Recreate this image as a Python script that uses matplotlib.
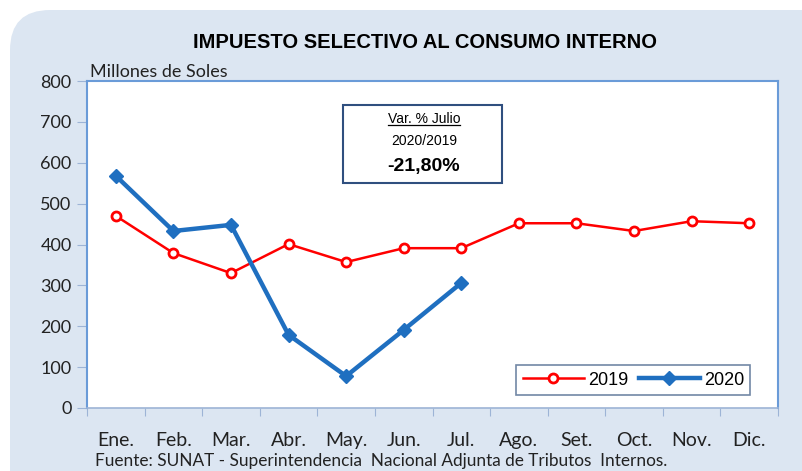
import matplotlib
matplotlib.use("Agg")
import matplotlib.pyplot as plt
from matplotlib.patches import FancyBboxPatch, Rectangle
from matplotlib.lines import Line2D
import numpy as np

# data
meses = ["Ene.", "Feb.", "Mar.", "Abr.", "May.", "Jun.", "Jul.",
         "Ago.", "Set.", "Oct.", "Nov.", "Dic."]
serie_2019 = [470, 379, 330, 401, 357, 391, 391, 452, 452, 433, 457, 452]
serie_2020 = [568, 433, 448, 179, 78, 191, 306]

titulo = "IMPUESTO SELECTIVO AL CONSUMO INTERNO"
fuente = "Fuente: SUNAT - Superintendencia  Nacional Adjunta de Tributos  Internos."

W, H = 802, 471
fig = plt.figure(figsize=(W / 100, H / 100), dpi=100)
fig.patch.set_facecolor("white")

# rounded light-blue background panel
bg = FancyBboxPatch((10 / W, -0.2), 1.2, 1.2 - 10 / H,
                    boxstyle="round,pad=0,rounding_size=0.05",
                    transform=fig.transFigure, facecolor="#dce6f2",
                    edgecolor="none", zorder=-5, mutation_aspect=W / H)
fig.patches.append(bg)

ax = fig.add_axes([87 / W, (H - 408) / H, (778 - 87) / W, (408 - 81) / H])
ax.set_facecolor("white")

x = np.arange(len(meses))
ax.plot(x, serie_2019, color="#ff0000", lw=1.8, marker="o", ms=6.5,
        mfc="white", mec="#ff0000", mew=2, label="2019", zorder=3)
ax.plot(np.arange(len(serie_2020)), serie_2020, color="#1f6fc0", lw=3.2,
        marker="D", ms=7, mfc="#1f6fc0", mec="#1f6fc0", label="2020", zorder=4)

ax.set_xlim(-0.5, len(meses) - 0.5)
ax.set_ylim(0, 800)
ax.set_yticks(range(0, 801, 100))
ax.set_xticks(np.arange(-0.5, len(meses), 1), minor=False)
ax.set_xticklabels([])
ax.set_xticks(x, minor=True)
ax.set_xticklabels(meses, minor=True)

axis_col = "#6a9bd8"
for s in ax.spines.values():
    s.set_color(axis_col)
    s.set_linewidth(1.5)
ax.spines["bottom"].set_color("#9db4d6")
ax.spines["bottom"].set_linewidth(1.2)

ax.tick_params(axis="y", direction="out", length=7, color="#9db4d6",
               labelsize=13, labelcolor="#222222", pad=4)
ax.tick_params(axis="x", which="major", direction="out", length=6,
               color="#9db4d6")
ax.tick_params(axis="x", which="minor", length=0, labelsize=14,
               labelcolor="#222222", pad=17)
for lab in ax.get_yticklabels() + ax.get_xticklabels(minor=True):
    lab.set_fontfamily("Lato")

fig.text(425 / W, 1 - 42 / H, titulo, ha="center", va="center",
         fontsize=14.5, fontweight="bold", family="Liberation Sans")
ax.text(0.005, 1.003, "Millones de Soles", transform=ax.transAxes,
        ha="left", va="bottom", fontsize=13, family="Lato", color="#222222")
fig.text(95 / W, 1 - 461 / H, fuente, ha="left", va="center",
         fontsize=12.4, family="Lato", color="#222222")

# variation box
box = Rectangle((343 / W, 1 - 183 / H), (502 - 343) / W, (183 - 105) / H,
                transform=fig.transFigure, facecolor="white",
                edgecolor="#2f4f7f", lw=1.5, zorder=5)
fig.patches.append(box)
t1 = fig.text(424 / W, 1 - 119 / H, "Var. % Julio", ha="center", va="center",
              fontsize=10, family="Liberation Sans", zorder=6)
fig.text(424 / W, 1 - 141 / H, "2020/2019", ha="center", va="center",
         fontsize=10, family="Liberation Sans", zorder=6)
fig.text(424 / W, 1 - 167 / H, "-21,80%", ha="center", va="center",
         fontsize=14, fontweight="bold", family="Liberation Sans", zorder=6)
fig.canvas.draw()
bb = t1.get_window_extent().transformed(fig.transFigure.inverted())
fig.lines.append(Line2D([bb.x0, bb.x1], [bb.y0 + 0.002, bb.y0 + 0.002],
                        transform=fig.transFigure, color="black", lw=0.9,
                        zorder=6))

leg = ax.legend(loc="lower right", bbox_to_anchor=(0.96, 0.04), ncol=2,
                frameon=True, fancybox=False, handlelength=3.4,
                columnspacing=0.6, handletextpad=0.2, borderpad=0.35,
                borderaxespad=0,
                prop={"family": "Liberation Sans", "size": 13})
leg.get_frame().set_edgecolor("#4f6a8f")
leg.get_frame().set_linewidth(1.2)

fig.savefig("out.png", dpi=100)
